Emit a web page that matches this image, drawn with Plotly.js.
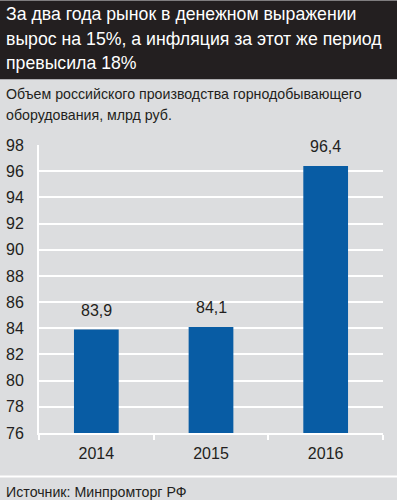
<!DOCTYPE html>
<html>
<head>
<meta charset="utf-8">
<script src="https://cdn.plot.ly/plotly-3.0.1.min.js"></script>
<style>
html,body{margin:0;padding:0;background:#dcdddf;}
#chart{width:397px;height:500px;}
</style>
</head>
<body>
<div id="chart"></div>
<script>
const years = ['2014', '2015', '2016'];
const values = [83.9, 84.1, 96.4];
const valueLabels = ['83,9', '84,1', '96,4'];
const yTicks = [76, 78, 80, 82, 84, 86, 88, 90, 92, 94, 96, 98];
const titleLines = ['За два года рынок в денежном выражении', 'вырос на 15%, а инфляция за этот же период', 'превысила 18%'];
const subtitleLines = ['Объем российского производства горнодобывающего', 'оборудования, млрд руб.'];
const sourceText = 'Источник: Минпромторг РФ';

const W = 397, H = 500;
const L = 39, R = 14.4, T = 144.7, B = 67;
const pw = W - L - R, ph = H - T - B;
const px = p => (p - L) / pw;
const py = p => (H - B - p) / ph;
const FONT = '"Liberation Sans", Arial, sans-serif';
const ink = '#231f20';

const trace = {
  type: 'bar',
  x: years,
  y: values,
  marker: {color: '#085ca4', line: {width: 0}},
  hoverinfo: 'none'
};

const annotations = years.map((yr, i) => ({
  x: i, y: values[i], xref: 'x', yref: 'y',
  text: valueLabels[i], showarrow: false, yshift: 19,
  font: {family: FONT, size: 16, color: ink}
}));

const titleY = [14, 38.5, 62.5];
titleLines.forEach((t, i) => annotations.push({
  xref: 'paper', yref: 'paper', x: px(4), y: py(titleY[i]), xanchor: 'left', yanchor: 'middle',
  text: t, align: 'left', showarrow: false,
  font: {family: FONT, size: 17.7, color: '#ffffff'}
}));
const subY = [94, 115];
subtitleLines.forEach((t, i) => annotations.push({
  xref: 'paper', yref: 'paper', x: px(4), y: py(subY[i]), xanchor: 'left', yanchor: 'middle',
  text: t, align: 'left', showarrow: false,
  font: {family: FONT, size: 14.2, color: ink}
}));
annotations.push({
  xref: 'paper', yref: 'paper', x: px(4), y: py(492), xanchor: 'left', yanchor: 'middle',
  text: sourceText, align: 'left', showarrow: false,
  font: {family: FONT, size: 14.2, color: ink}
});

const layout = {
  width: W, height: H,
  margin: {l: L, r: R, t: T, b: B, pad: 0},
  paper_bgcolor: '#dcdddf',
  plot_bgcolor: '#dcdddf',
  separators: ', ',
  showlegend: false,
  bargap: 0.61,
  font: {family: FONT, color: ink},
  xaxis: {
    type: 'category',
    range: [-0.5, 2.5],
    showline: true, linecolor: '#ffffff', linewidth: 2,
    ticks: 'outside', ticklen: 5, tickcolor: '#ffffff', tickwidth: 2,
    tickson: 'boundaries',
    ticklabelstandoff: 5,
    showgrid: false, zeroline: false,
    tickangle: 0,
    tickfont: {family: FONT, size: 16, color: ink},
    fixedrange: true
  },
  yaxis: {
    range: [76, 98],
    tickmode: 'array', tickvals: yTicks, ticktext: yTicks.map(String),
    showline: true, linecolor: '#ffffff', linewidth: 2,
    showgrid: true, gridcolor: '#ffffff', gridwidth: 2,
    zeroline: false, ticks: 'outside', ticklen: 10, tickcolor: 'rgba(0,0,0,0)',
    tickfont: {family: FONT, size: 16, color: ink},
    fixedrange: true
  },
  shapes: [
    {type: 'rect', xref: 'paper', yref: 'paper', x0: px(0), x1: px(W), y0: py(79), y1: py(0),
     fillcolor: '#231f20', line: {width: 0}, layer: 'below'},
    {type: 'line', xref: 'paper', yref: 'paper', x0: px(0), x1: px(W), y0: py(476.5), y1: py(476.5),
     line: {color: '#ffffff', width: 2}}
  ],
  annotations: annotations
};

Plotly.newPlot('chart', [trace], layout, {displayModeBar: false, staticPlot: true});
</script>
</body>
</html>
